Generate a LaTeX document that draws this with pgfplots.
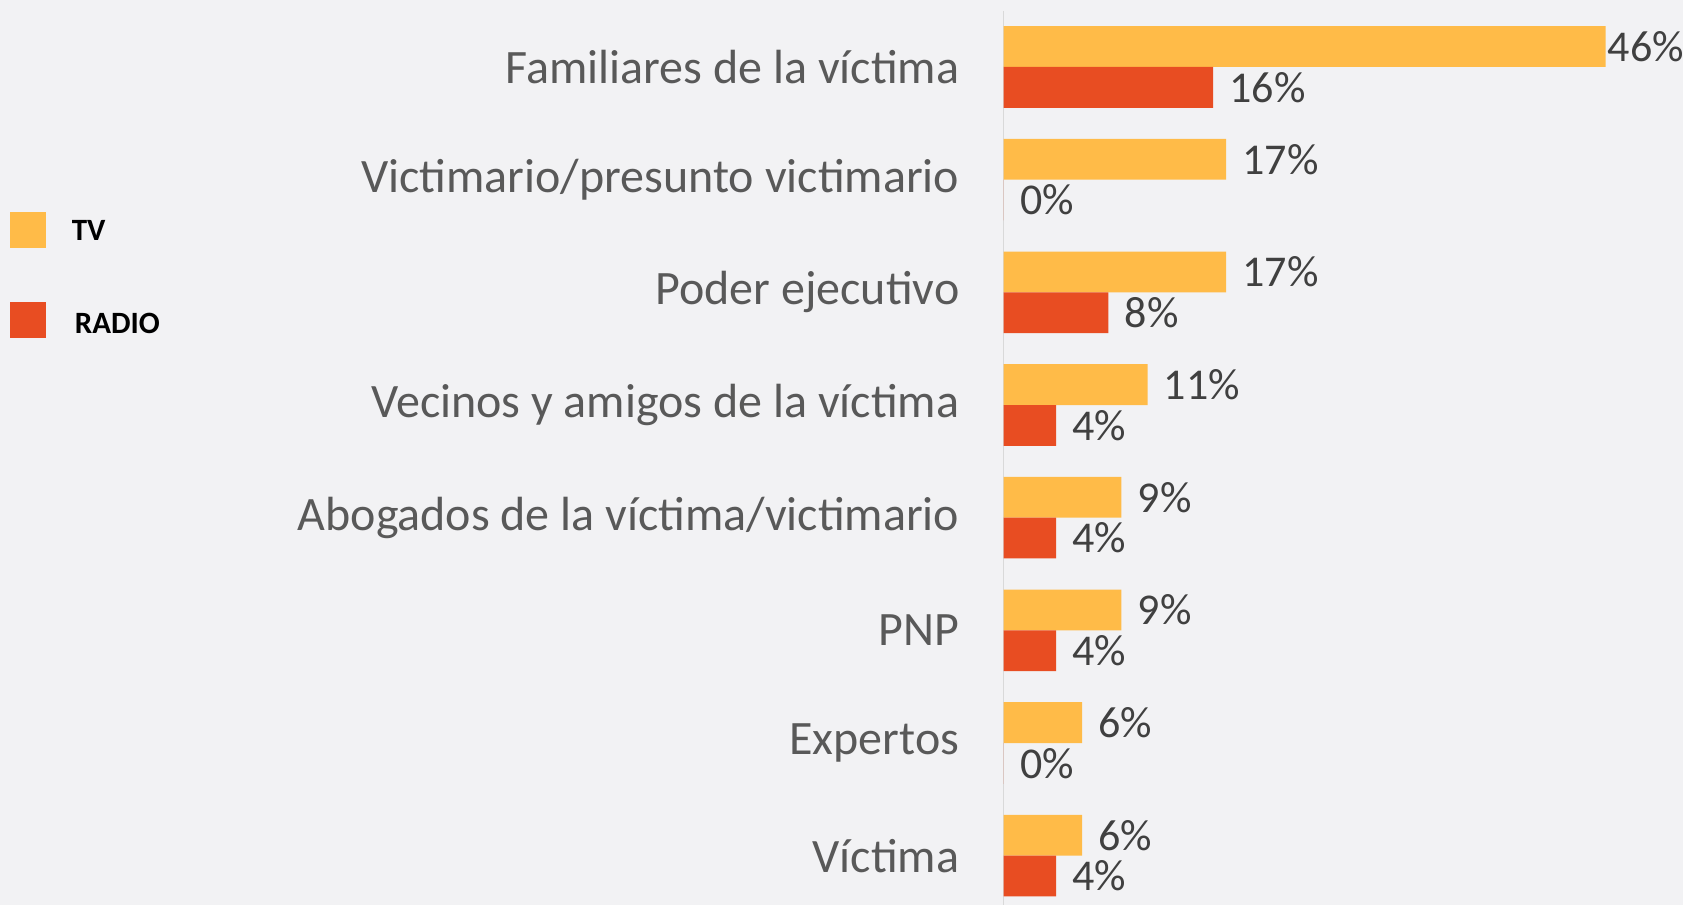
\documentclass[border=0pt]{standalone}
\usepackage{pgfplots}
\pgfplotsset{compat=1.18}
\usepackage{pgfplotstable}
\usepackage{fontspec}
\setmainfont{Carlito}
\definecolor{bgc}{RGB}{242,242,244}
\definecolor{tvc}{RGB}{255,187,72}
\definecolor{radc}{RGB}{232,77,34}
\definecolor{catc}{RGB}{89,89,89}
\definecolor{labc}{RGB}{64,64,64}
\definecolor{axc}{RGB}{217,217,217}

\pgfplotstableread{
y  val dx
0  46 1
1  17 8
2  17 8
3  11 8
4  9  8
5  9  8
6  6  8
7  6  8
}\tvdata
\pgfplotstableread{
y  val dx
0  16 8
1  0  8
2  8  8
3  4  8
4  4  8
5  4  8
6  0  8
7  4  8
}\raddata

\begin{document}
\begin{tikzpicture}
\fill[bgc] (0,0) rectangle (842bp,452.5bp);
\begin{axis}[
  at={(502bp,0bp)}, anchor=south west,
  scale only axis, width=340bp, height=447bp,
  xmin=0, xmax=51.95,
  ymin=-0.497, ymax=7.435, y dir=reverse,
  xbar, bar width=20.4bp,
  hide x axis,
  axis y line*=left,
  y axis line style={draw=axc, line width=0.8bp},
  major tick length=0pt,
  ytick={0,...,7},
  yticklabels={Familiares de la víctima, Victimario/presunto victimario, Poder ejecutivo, Vecinos y amigos de la víctima, Abogados de la víctima/victimario, PNP, Expertos, Víctima},
  yticklabel style={font=\fontsize{24bp}{29bp}\selectfont, text=catc, anchor=east, inner sep=0pt, xshift=-22bp},
  /pgf/number format/assume math mode=true,
  visualization depends on={\thisrow{dx} \as \dx},
  nodes near coords={\pgfmathprintnumber{\pgfplotspointmeta}\%},
  every node near coord/.append style={font=\fontsize{22bp}{26bp}\selectfont, text=labc, anchor=west, inner sep=0pt, xshift=\dx bp},
  point meta=explicit,
  clip=false,
  legend style={at={(-1.462,0.775)}, anchor=north west, draw=none, fill=none,
    font=\fontsize{15.5bp}{18bp}\selectfont\bfseries, text=black,
    row sep=27bp, inner sep=0pt, outer sep=0pt, legend cell align=left,
    nodes={inner sep=0pt, text depth=0pt}},
  legend image code/.code={\fill[#1, draw=none] (0bp,-9bp) rectangle (18bp,9bp);},
]
\addplot[fill=tvc, draw=none, bar shift=10.2bp] table[x=val, y=y, meta=val] {\tvdata};
\addplot[fill=radc, draw=none, bar shift=-10.2bp] table[x=val, y=y, meta=val] {\raddata};
\legend{\hspace{13bp}TV, \hspace{14.5bp}\raisebox{-3bp}{RADIO}}
\end{axis}
\end{tikzpicture}
\end{document}
